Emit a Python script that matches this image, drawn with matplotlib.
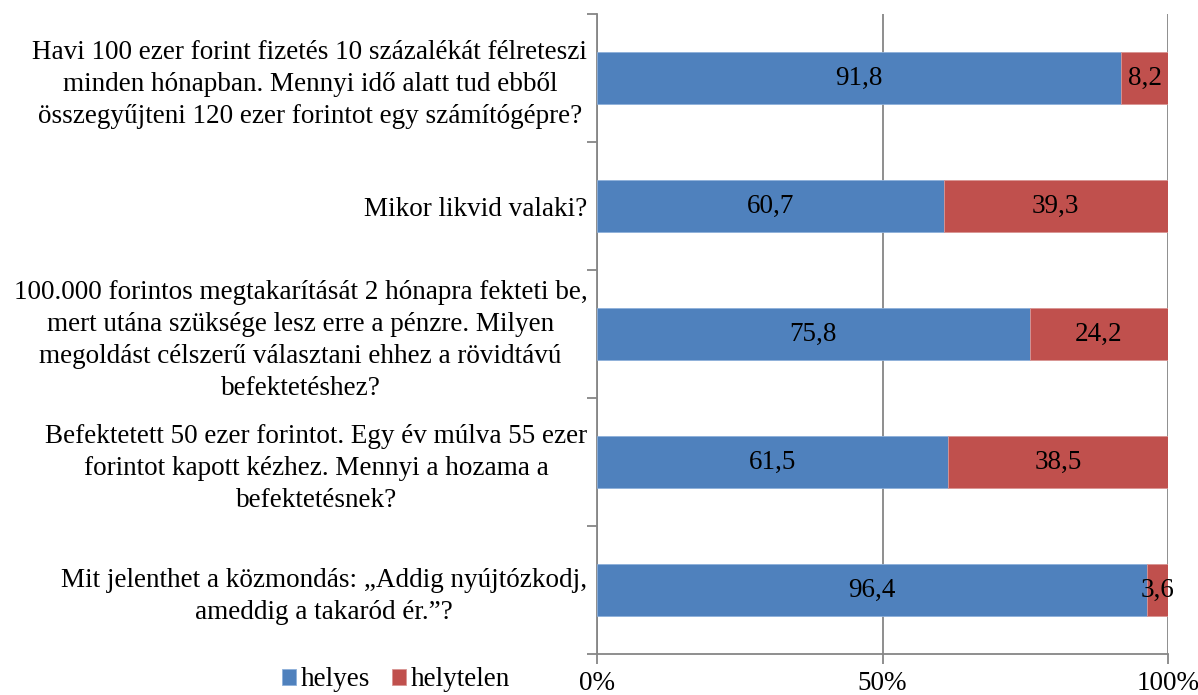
import matplotlib.pyplot as plt
from matplotlib.ticker import FuncFormatter

plt.rcParams['font.family'] = ['Liberation Serif', 'DejaVu Serif']

questions = [
    'Havi 100 ezer forint fizetés 10 százalékát félreteszi\nminden hónapban. Mennyi idő alatt tud ebből\nösszegyűjteni 120 ezer forintot egy számítógépre?',
    'Mikor likvid valaki?',
    '100.000 forintos megtakarítását 2 hónapra fekteti be,\nmert utána szüksége lesz erre a pénzre. Milyen\nmegoldást célszerű választani ehhez a rövidtávú\nbefektetéshez?',
    'Befektetett 50 ezer forintot. Egy év múlva 55 ezer\nforintot kapott kézhez. Mennyi a hozama a\nbefektetésnek?',
    'Mit jelenthet a közmondás: „Addig nyújtózkodj,\nameddig a takaród ér.”?',
]
helyes = [91.8, 60.7, 75.8, 61.5, 96.4]
helytelen = [8.2, 39.3, 24.2, 38.5, 3.6]

blue = '#4F81BD'
red = '#C0504D'
grid = '#868686'
fs = 19.5

fig = plt.figure(figsize=(11.98, 6.95), dpi=100)
ax = fig.add_axes([597 / 1198, 1 - 654 / 695, (1168 - 597) / 1198, 640 / 695])

y = list(range(len(questions)))
b1 = ax.barh(y, helyes, height=0.4, color=blue, edgecolor='#8EB0DA', linewidth=0.6, label='helyes', zorder=3)
b2 = ax.barh(y, helytelen, left=helyes, height=0.4, color=red, edgecolor='#D99593', linewidth=0.6, label='helytelen', zorder=3)

for bars, vals in ((b1, helyes), (b2, helytelen)):
    labels = [f'{v:.1f}'.replace('.', ',') for v in vals]
    ax.bar_label(bars, labels=labels, label_type='center', fontsize=fs, zorder=4)

ax.set_xlim(0, 100)
ax.set_ylim(len(questions) - 0.5, -0.5)
ax.set_xticks([0, 50, 100])
ax.xaxis.set_major_formatter(FuncFormatter(lambda v, p: f'{v:.0f}%'))
ax.grid(axis='x', color=grid, linewidth=1.3, zorder=0)

# category ticks sit between the groups, labels at the centres
ax.set_yticks([i - 0.5 for i in range(len(questions) + 1)])
ax.set_yticklabels([])
ax.set_yticks(y, minor=True)
ax.set_yticklabels(questions, minor=True, fontsize=fs, ha='right',
                   multialignment='center', linespacing=1.38)
ax.tick_params(axis='y', which='minor', length=0, pad=7)
ax.tick_params(axis='y', which='major', length=7, color=grid, width=1.3)
ax.tick_params(axis='x', length=7, color=grid, width=1.3, labelsize=fs, pad=5)

for s in ['top', 'right']:
    ax.spines[s].set_visible(False)
for s in ['left', 'bottom']:
    ax.spines[s].set_color(grid)
    ax.spines[s].set_linewidth(1.3)

fig.legend(handles=[b1, b2], loc='center left', bbox_to_anchor=(282 / 1198, 1 - 680 / 695),
           ncol=2, frameon=False, fontsize=fs, handlelength=0.5, handleheight=0.5,
           handletextpad=0.2, columnspacing=0.8, borderpad=0, borderaxespad=0)

fig.savefig('out.png', dpi=100)
